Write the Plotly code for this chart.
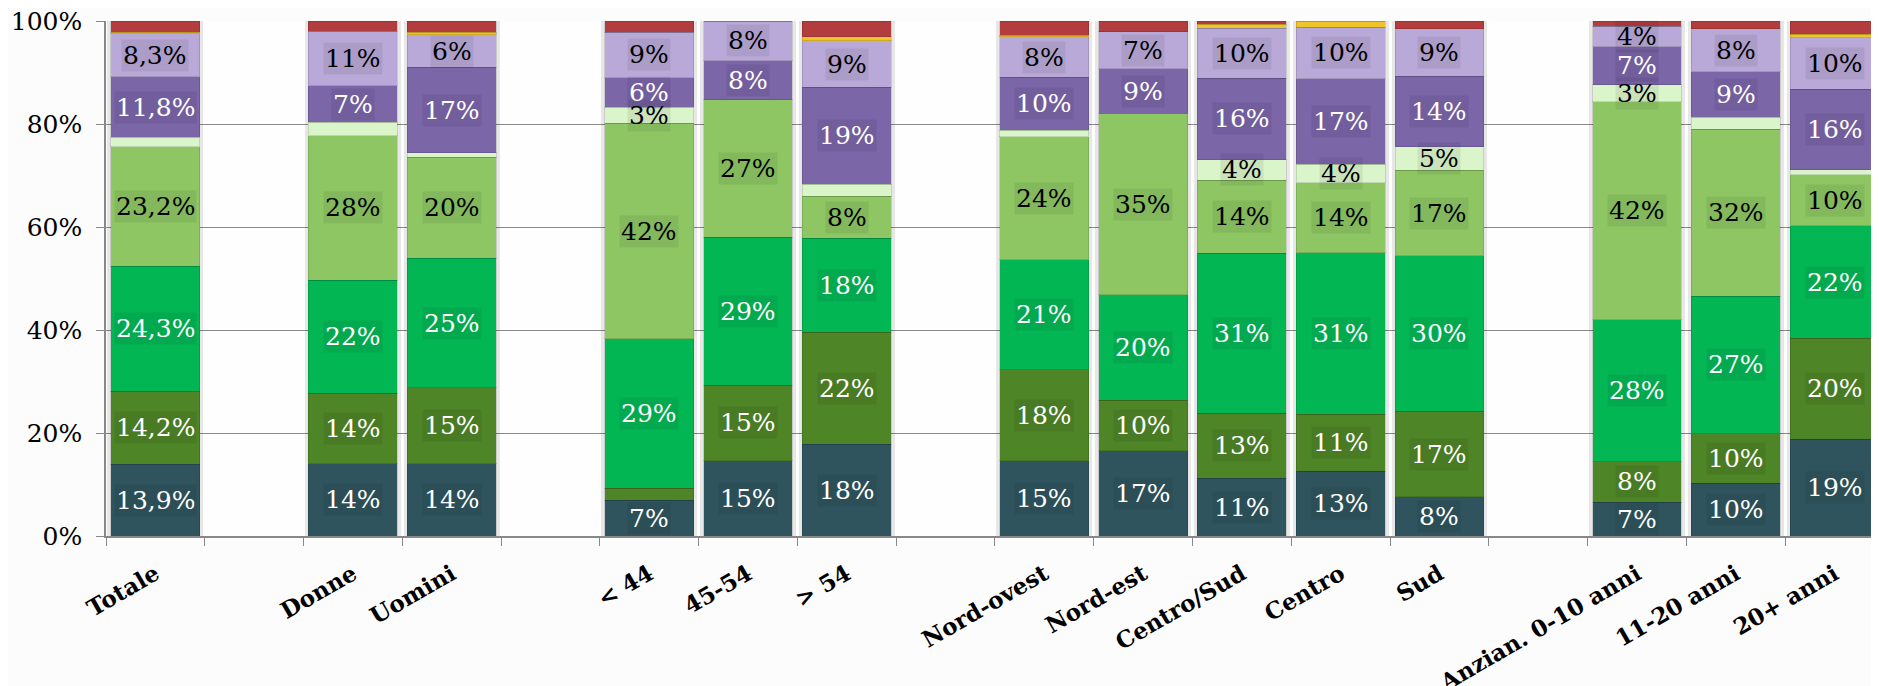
import plotly.graph_objects as go

# categorie (le stringhe vuote sono gli spazi tra i gruppi)
categorie = ['Totale', ' ', 'Donne', 'Uomini', '  ', '< 44', '45-54', '> 54', '   ',
             'Nord-ovest', 'Nord-est', 'Centro/Sud', 'Centro', 'Sud', '    ',
             'Anzian. 0-10 anni', '11-20 anni', '20+ anni']

s1 = [13.9, None, 14.0, 14.0, None, 6.9, 14.6, 17.8, None, 14.6, 16.6, 11.2, 12.6, 7.6, None, 6.6, 10.2, 18.8]
s2 = [14.2, None, 13.7, 14.8, None, 2.4, 14.7, 21.8, None, 17.7, 9.8, 12.6, 11.0, 16.6, None, 7.8, 9.7, 19.6]
s3 = [24.3, None, 22.0, 25.1, None, 29.0, 28.7, 18.2, None, 21.3, 20.4, 31.1, 31.4, 30.2, None, 27.6, 26.7, 21.8]
s4 = [23.2, None, 28.0, 19.6, None, 41.8, 26.7, 8.2, None, 23.9, 35.3, 14.2, 13.6, 16.6, None, 42.3, 32.4, 9.9]
s5 = [1.8, None, 2.6, 0.9, None, 3.2, 0.0, 2.3, None, 1.3, 0.0, 4.0, 3.6, 4.6, None, 3.3, 2.3, 1.0]
s6 = [11.8, None, 7.1, 16.6, None, 5.7, 7.6, 18.8, None, 10.3, 8.6, 15.8, 16.6, 13.7, None, 7.4, 8.8, 15.6]
s7 = [8.3, None, 10.6, 6.3, None, 8.8, 7.7, 9.1, None, 7.8, 7.2, 9.7, 10.0, 9.2, None, 4.0, 8.4, 10.0]
s8 = [0.3, None, 0.0, 0.5, None, 0.0, 0.0, 0.7, None, 0.3, 0.0, 0.8, 1.2, 0.0, None, 0.0, 0.0, 0.7]
s9 = [2.2, None, 2.0, 2.2, None, 2.2, 0.0, 3.1, None, 2.8, 2.1, 0.6, 0.0, 1.5, None, 1.0, 1.5, 2.6]

y_ticks = [0, 20, 40, 60, 80, 100]
y_labels = ['0%', '20%', '40%', '60%', '80%', '100%']

serie = [s1, s2, s3, s4, s5, s6, s7, s8, s9]
colori = ['#2F545E', '#4E8526', '#03B654', '#8DC663', '#DAF5C9',
          '#7B66A8', '#B9A9D8', '#EFC32A', '#B23C3E']
col_testo = ['white', 'white', 'white', 'black', 'black', 'white', 'black', None, None]

fig = go.Figure()

# ombra leggera dietro le barre
totali = [None if v is None else 100 for v in s1]
fig.add_trace(go.Bar(
    x=categorie, y=totali, width=0.97, hoverinfo='skip', showlegend=False,
    marker=dict(color='rgba(0,0,0,0.09)', line=dict(width=0)),
    xaxis='x',
))

for i, vals in enumerate(serie):
    fig.add_trace(go.Bar(
        x=categorie, y=vals, name='Serie %d' % (i + 1),
        marker=dict(color=colori[i], line=dict(width=1, color='rgba(0,0,0,0.12)')),
        width=0.9, xaxis='x2',
        hoverinfo='x+y',
    ))

# etichette con sfondo
base = [0] * len(categorie)
for i, vals in enumerate(serie):
    for j, v in enumerate(vals):
        if v is None:
            continue
        if col_testo[i] is not None and v >= 3:
            if categorie[j] == 'Totale':
                txt = ('%.1f%%' % v).replace('.', ',')
            else:
                txt = '%d%%' % int(v + 0.5)
            fig.add_annotation(
                x=categorie[j], y=base[j] + v / 2, text=txt, showarrow=False,
                xref='x2', yref='y',
                font=dict(family='DejaVu Serif', size=25, color=col_testo[i]),
                bgcolor='rgba(0,0,0,0.07)', borderpad=1,
            )
        base[j] += v

# la pagina html ha 8px di margine sul body: compenso
fig.update_layout(
    barmode='stack',
    width=1871, height=678,
    margin=dict(l=98, r=0, t=13, b=150),
    paper_bgcolor='#fcfcfc', plot_bgcolor='#fefefe',
    showlegend=False, bargap=0.1,
    font=dict(family='DejaVu Serif', color='black'),
    xaxis=dict(
        type='category', categoryorder='array', categoryarray=categorie,
        range=[-0.5, 17.45], tickangle=-30, tickson='boundaries', automargin=False,
        ticks='outside', ticklen=8, tickcolor='#888', showline=True, linecolor='#888', linewidth=1.5,
        tickfont=dict(family='DejaVu Serif', size=23, color='black', weight='bold'),
        ticklabelstandoff=14, showgrid=False, ticklabeloverflow='allow',
    ),
    xaxis2=dict(
        type='category', categoryorder='array', categoryarray=categorie,
        range=[-0.5, 17.45], overlaying='x', matches='x', visible=False,
    ),
    yaxis=dict(
        range=[0, 100], tickvals=y_ticks, ticktext=y_labels, automargin=False,
        ticks='outside', ticklen=8, tickcolor='#888', showline=True, linecolor='#888', linewidth=1.5,
        gridcolor='#8a8a8a', gridwidth=1, zeroline=False, ticklabelstandoff=9,
        ticklabeloverflow='allow',
        tickfont=dict(family='DejaVu Serif', size=25, color='black'),
    ),
)

fig.write_html('out.html')
